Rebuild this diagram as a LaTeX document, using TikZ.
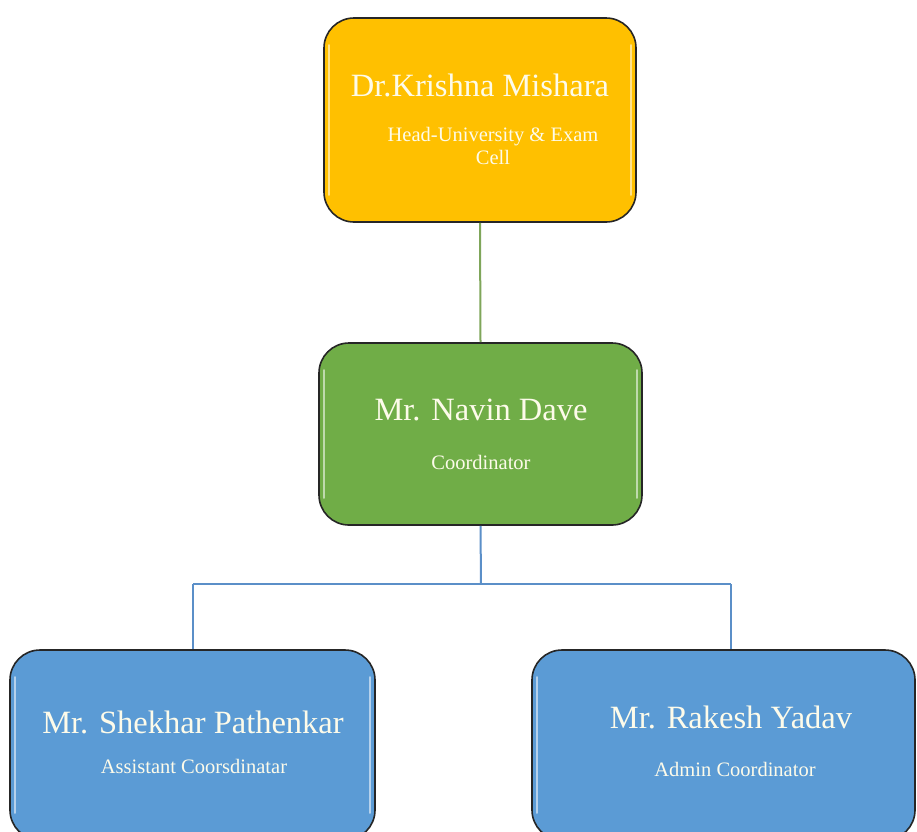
\documentclass[tikz,border=0pt]{standalone}
\usepackage{fontspec}
\setmainfont{Liberation Serif}
\definecolor{gold}{HTML}{FFC000}
\definecolor{leaf}{HTML}{70AD47}
\definecolor{sky}{HTML}{5B9BD5}
\definecolor{linkgreen}{HTML}{7FA65A}
\definecolor{linkblue}{HTML}{5B8FC8}
\definecolor{txt}{HTML}{FDFBEA}
\begin{document}
\begin{tikzpicture}[x=1pt,y=-1pt,
  card/.style={draw=black!85, line width=1.6pt, rounded corners=30pt, inner sep=0pt},
  title/.style={text=txt, font=\fontsize{32.5}{35}\selectfont, inner sep=0pt},
  sub/.style={text=txt, font=\fontsize{20.5}{23}\selectfont, inner sep=0pt, align=center},
  shine/.style={white, opacity=0.55, line width=2.5pt, line cap=round},
  link/.style={line width=2pt}]
\clip (0,0) rectangle (917,831);
\fill[white] (0,0) rectangle (917,831);
% connectors
\coordinate (hub) at (481,584);
\coordinate (hl) at (193,584);
\coordinate (hr) at (731,584);
% boxes
\node[card, fill=gold, minimum width=312pt, minimum height=204pt] (head) at (480,120) {};
\node[card, fill=leaf, minimum width=323pt, minimum height=182pt] (coord) at (480.5,434) {};
\node[card, fill=sky, minimum width=365pt, minimum height=190pt] (asst) at (192.5,745) {};
\node[card, fill=sky, minimum width=383pt, minimum height=190pt] (admin) at (723.5,745) {};
\draw[link, linkgreen] (head.south) -- (coord.north);
\draw[link, linkblue] (coord.south) -- (hub);
\draw[link, linkblue] (hl) -- (hr);
\draw[link, linkblue] (hl) -- (hl |- asst.north);
\draw[link, linkblue] (hr) -- (hr |- admin.north);
% highlights
\draw[shine] ([xshift=6pt,yshift=-28pt]head.north west) -- ([xshift=6pt,yshift=28pt]head.south west);
\draw[shine] ([xshift=-6pt,yshift=-28pt]head.north east) -- ([xshift=-6pt,yshift=28pt]head.south east);
\draw[shine] ([xshift=6pt,yshift=-28pt]coord.north west) -- ([xshift=6pt,yshift=28pt]coord.south west);
\draw[shine] ([xshift=-6pt,yshift=-28pt]coord.north east) -- ([xshift=-6pt,yshift=28pt]coord.south east);
\draw[shine] ([xshift=6pt,yshift=-28pt]asst.north west) -- ([xshift=6pt,yshift=28pt]asst.south west);
\draw[shine] ([xshift=-6pt,yshift=-28pt]asst.north east) -- ([xshift=-6pt,yshift=28pt]asst.south east);
\draw[shine] ([xshift=6pt,yshift=-28pt]admin.north west) -- ([xshift=6pt,yshift=28pt]admin.south west);
% texts
\node[title] (headname) at (480,85) {Dr.Krishna Mishara};
\node[sub] (headrole) at (493,146) {Head-University \& Exam\\Cell};
\node[title] (coordname) at (481,410) {Mr. Navin Dave};
\node[sub] (coordrole) at (481,462) {Coordinator};
\node[title] (asstname) at (193,722) {Mr. Shekhar Pathenkar};
\node[sub] (asstrole) at (194,766) {Assistant Coorsdinatar};
\node[title] (adminname) at (731,717) {Mr. Rakesh Yadav};
\node[sub] (adminrole) at (735,769) {Admin Coordinator};
\end{tikzpicture}
\end{document}
